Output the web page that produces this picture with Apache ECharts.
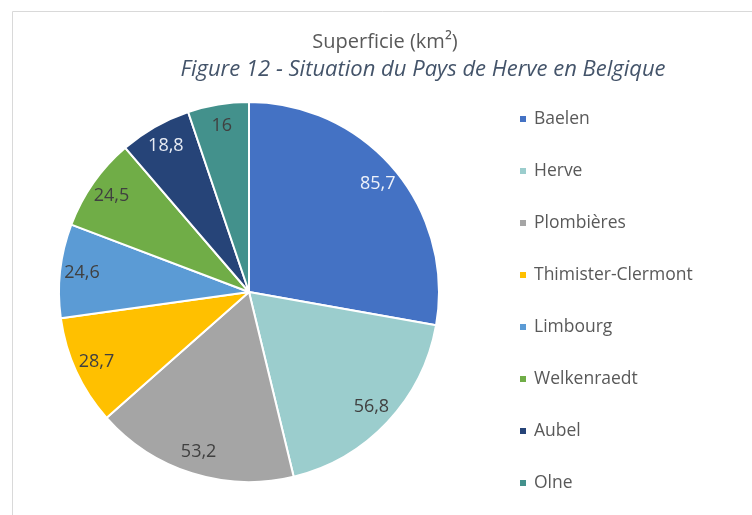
<!DOCTYPE html>
<html>
<head>
<meta charset="utf-8">
<script src="https://cdn.jsdelivr.net/npm/echarts@6/dist/echarts.min.js"></script>
<style>html,body{margin:0;padding:0;background:#fff;}#c{width:752px;height:515px;}</style>
</head>
<body>
<div id="c"></div>
<script>
const categories = ['Baelen', 'Herve', 'Plombières', 'Thimister-Clermont', 'Limbourg', 'Welkenraedt', 'Aubel', 'Olne'];
const values = [85.7, 56.8, 53.2, 28.7, 24.6, 24.5, 18.8, 16];
const colors = ['#4472C4', '#9BCDCD', '#A5A5A5', '#FFC000', '#5B9BD5', '#70AD47', '#264478', '#43918C'];
const labelColors = ['#EEF2FA', '#404040', '#404040', '#404040', '#404040', '#404040', '#E8ECF4', '#404040'];

const font = '"Open Sans", sans-serif';
const chart = echarts.init(document.getElementById('c'));
const center = [249, 292];
const R = 190;

chart.setOption({
  animation: false,
  color: colors,
  title: [
    { text: 'Superficie (km²)', left: 380, top: 27, textAlign: 'center',
      textStyle: { fontFamily: font, fontSize: 20, fontWeight: 'normal', color: '#595959' } },
    { text: 'Figure 12 - Situation du Pays de Herve en Belgique', left: 418, top: 54, textAlign: 'center',
      textStyle: { fontFamily: font, fontSize: 22, fontStyle: 'italic', fontWeight: 'normal', color: '#44546A' } }
  ],
  legend: {
    orient: 'vertical', left: 513, top: 104,
    icon: 'rect', itemWidth: 8, itemHeight: 8, itemGap: 32,
    data: categories,
    textStyle: { fontFamily: font, fontSize: 17.5, lineHeight: 20, color: '#595959', padding: [0, 0, 0, 2] }
  },
  graphic: [
    { type: 'line', shape: { x1: 12.5, y1: 11.5, x2: 752, y2: 11.5 }, style: { stroke: '#D9D9D9', lineWidth: 1 }, silent: true },
    { type: 'line', shape: { x1: 12.5, y1: 11.5, x2: 12.5, y2: 515 }, style: { stroke: '#D9D9D9', lineWidth: 1 }, silent: true }
  ],
  series: [
    {
      type: 'pie', center: center, radius: [0, R], startAngle: 90, clockwise: true,
      data: categories.map((n, i) => ({ name: n, value: values[i], itemStyle: { color: colors[i] } })),
      itemStyle: { borderColor: '#fff', borderWidth: 2 },
      label: { show: false }, labelLine: { show: false },
      emphasis: { disabled: true }
    },
    {
      type: 'pie', center: center, radius: [140, R], startAngle: 90, clockwise: true,
      silent: true,
      data: categories.map((n, i) => ({ name: n, value: values[i],
        itemStyle: { color: 'rgba(0,0,0,0)' },
        label: { color: labelColors[i] } })),
      itemStyle: { borderWidth: 0 },
      label: { show: true, position: 'inside', fontFamily: font, fontSize: 18,
        formatter: p => String(p.value).replace('.', ',') },
      labelLine: { show: false },
      emphasis: { disabled: true }
    }
  ]
});
</script>
</body>
</html>
